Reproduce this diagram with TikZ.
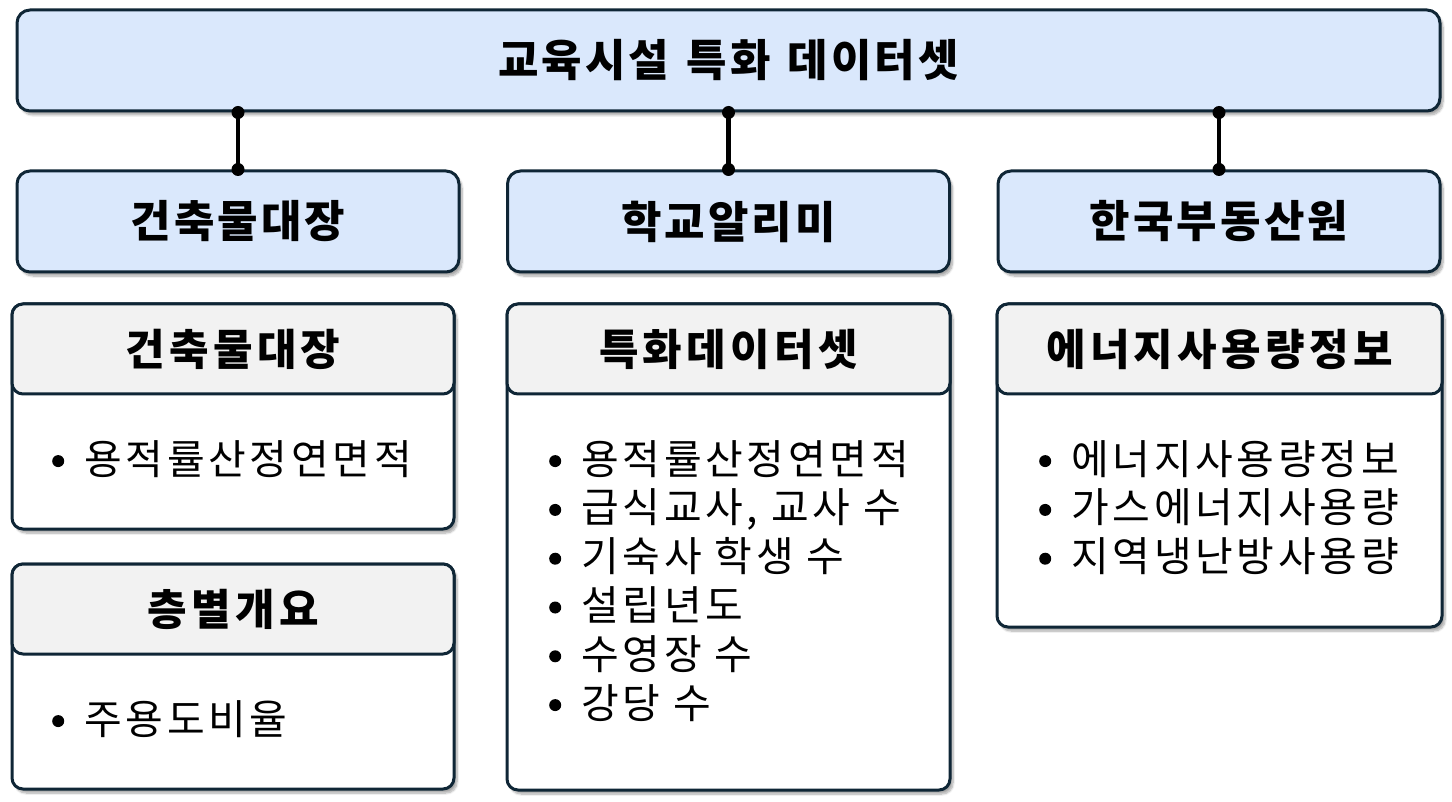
\documentclass[tikz,border=0pt]{standalone}
\usepackage{fontspec}
\setmainfont{Noto Sans CJK KR}
\newfontfamily\bodyfont{Noto Sans CJK KR}[LetterSpace=9]
\newfontfamily\headfont{Noto Sans CJK KR}[LetterSpace=10]
\newfontfamily\bluefont{Noto Sans CJK KR}[LetterSpace=7]
\usetikzlibrary{shadows.blur}
\definecolor{bordc}{HTML}{0F2636}
\definecolor{bluef}{HTML}{DAE8FC}
\definecolor{headf}{HTML}{F2F2F2}
\tikzset{
  boxshadow/.style={blur shadow={shadow xshift=3pt,shadow yshift=-4pt,shadow blur steps=8,shadow blur extra rounding=2pt,shadow opacity=35}},
  bluebox/.style={draw=bordc,line width=3pt,fill=bluef,rounded corners=13pt,boxshadow,
    minimum width=#1,minimum height=101pt,inner sep=0pt,
    font=\bluefont\fontsize{44}{50}\selectfont\bfseries},
  panel/.style={draw=bordc,line width=3pt,fill=white,rounded corners=11pt,boxshadow,inner sep=0pt},
  headbox/.style={draw=bordc,line width=3pt,fill=headf,rounded corners=11pt,inner sep=0pt,
    minimum width=442pt,minimum height=90pt,font=\headfont\fontsize{43}{50}\selectfont\bfseries},
  listtext/.style={inner sep=0pt,align=left,anchor=north west,font=\bodyfont\fontsize{41}{48.8}\selectfont},
  conn/.style={line width=4.5pt,black},
  dotc/.style={fill=black},
}
\newcommand\bul{\tikz[baseline=0pt]\fill[black] (6pt,13pt) circle [radius=6pt];}
\newcommand\itm[1]{\makebox[32pt][l]{\bul}#1}
\begin{document}
\begin{tikzpicture}[x=1pt,y=-1pt]
\useasboundingbox (0,0) rectangle (1452,802);
% top
\node[bluebox=1423pt] (top) at (728.5,60.5) {교육시설\hspace{4pt} 특화\hspace{4pt} 데이터셋};
% row 2
\node[bluebox=442pt] (s1) at (238,221.5) {건축물대장};
\node[bluebox=442pt] (s2) at (728.5,221.5) {학교알리미};
\node[bluebox=442pt] (s3) at (1219,221.5) {한국부동산원};
% connectors
\foreach \s in {s1,s2,s3}{
  \coordinate (\s a) at (top.south -| \s.north);
  \coordinate (\s b) at (\s.north);
  \draw[conn] (\s a) -- (\s b);
  \fill[dotc] (\s a) circle (6.5pt);
  \fill[dotc] (\s b) circle (6.5pt);
}
% row 3 panels
\node[panel,minimum width=442pt,minimum height=225pt] (p1) at (233,416.5) {};
\node[headbox,anchor=north] (h1) at (p1.north) {건축물대장};
\node[listtext] (l1) at (52,440) {\itm{용적률산정연면적}};

\node[panel,minimum width=442pt,minimum height=225pt] (p2) at (233,676.5) {};
\node[headbox,anchor=north] (h2) at (p2.north) {층별개요};
\node[listtext] (l2) at (52,700) {\itm{주용도비율}};

\node[panel,minimum width=443pt,minimum height=486pt] (p3) at (728.5,547) {};
\node[headbox,minimum width=443pt,anchor=north] (h3) at (p3.north) {특화데이터셋};
\node[listtext] (l3) at (549,440) {\itm{용적률산정연면적}\\ \itm{급식교사, 교사 수}\\ \itm{기숙사 학생 수}\\ \itm{설립년도}\\ \itm{수영장 수}\\ \itm{강당 수}};

\node[panel,minimum width=445pt,minimum height=323pt] (p4) at (1219.5,465.5) {};
\node[headbox,minimum width=445pt,anchor=north] (h4) at (p4.north) {에너지사용량정보};
\node[listtext] (l4) at (1039,440) {\itm{에너지사용량정보}\\ \itm{가스에너지사용량}\\ \itm{지역냉난방사용량}};
\end{tikzpicture}
\end{document}
